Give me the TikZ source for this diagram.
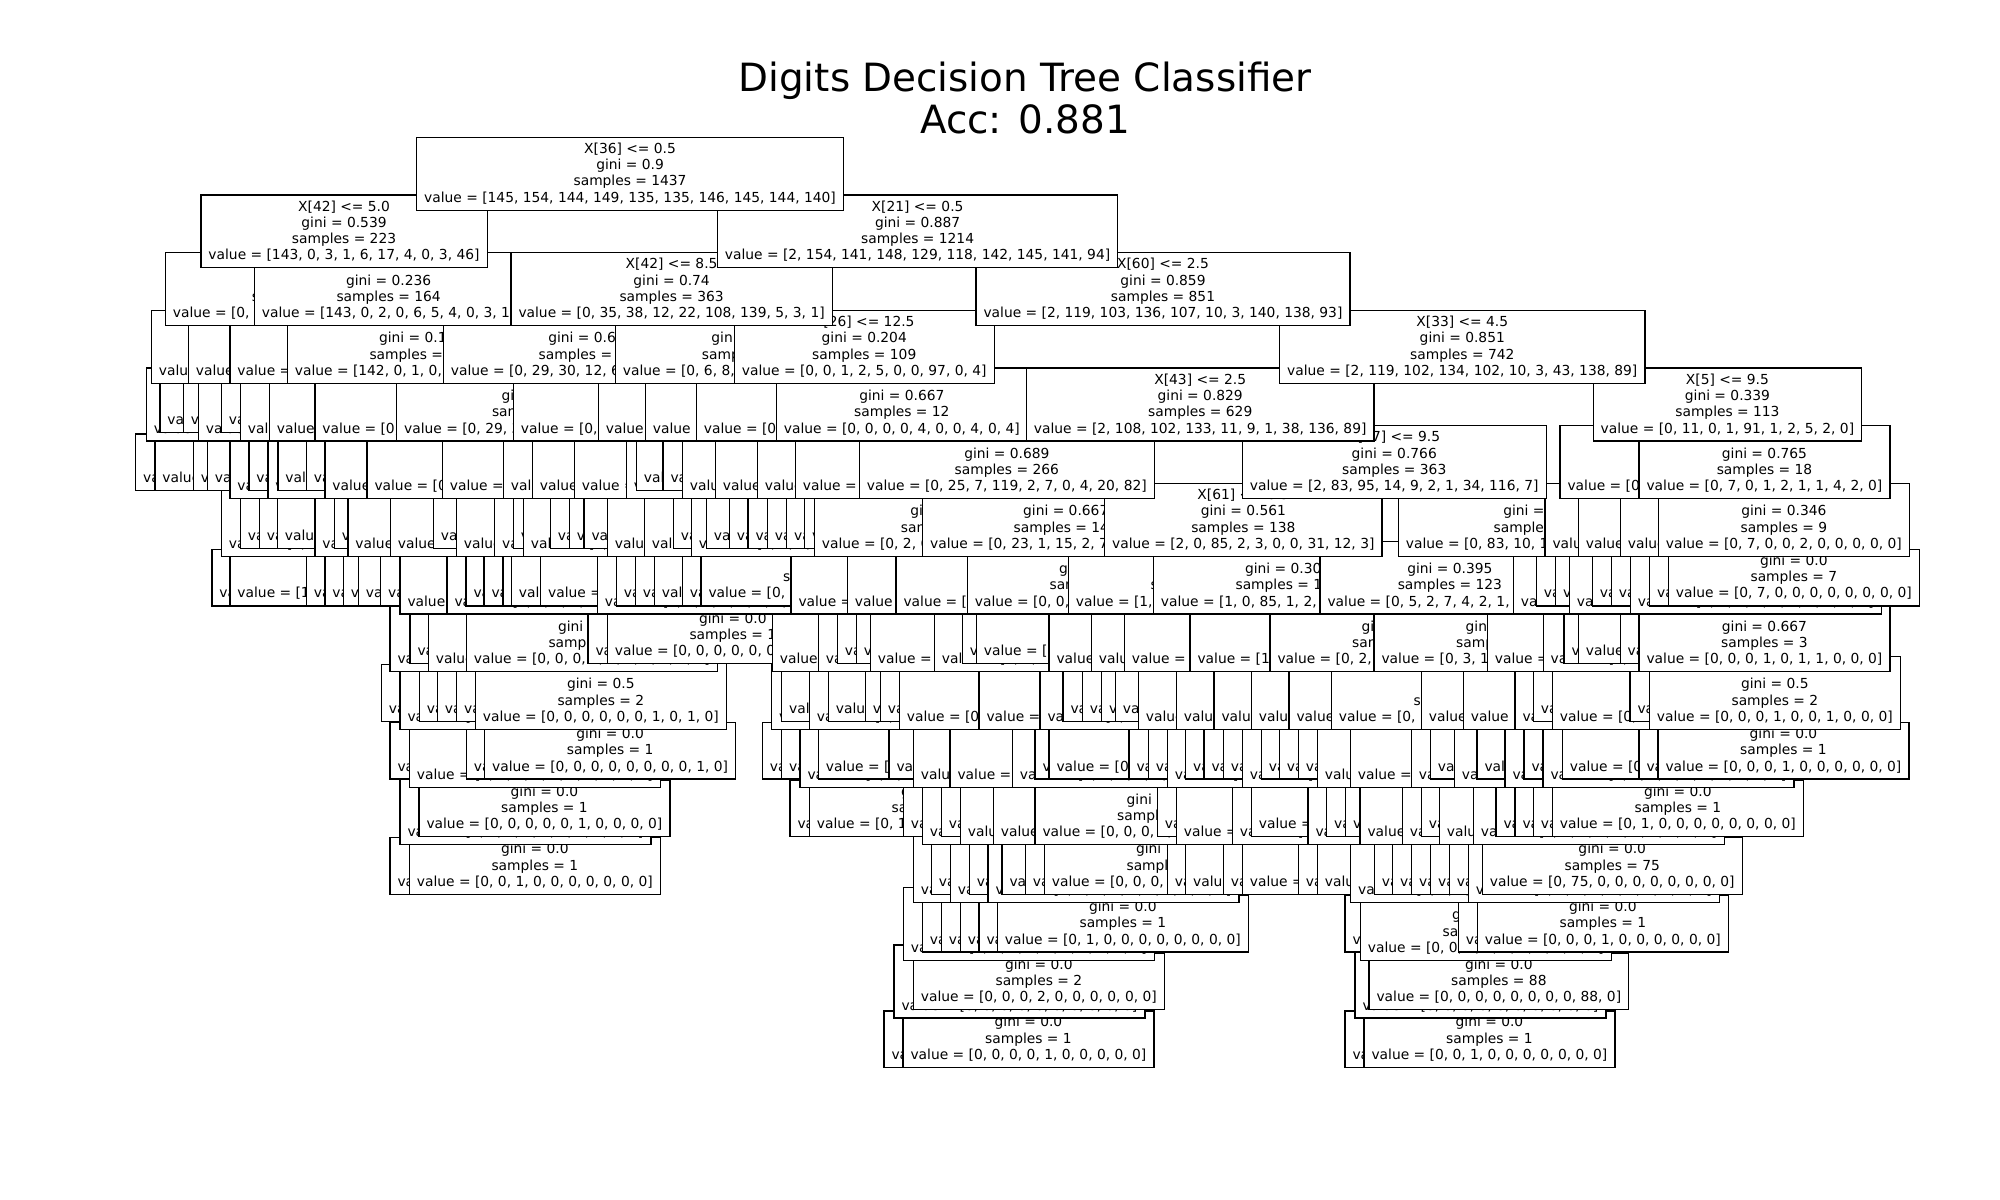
\documentclass[tikz,border=0pt]{standalone}
\usepackage{fontspec}
\newfontfamily\dv{DejaVu Sans}
\newcommand\st{\rule[-2.94pt]{0pt}{11.74pt}}
\newcommand\ph{\phantom{X[0] <= 0.5}}
\newcommand\Z{0, 0, 0, 0, 0, 0, 0, 0, 0, 0}
\tikzset{
  tb/.style={draw=black, fill=white, line width=0.9pt, inner xsep=5.45pt, inner ysep=2.75pt,
    align=center, anchor=west, font=\dv\fontsize{9.95pt}{11.74pt}\selectfont},
  ttl/.style={anchor=base, inner sep=0pt, font=\dv\fontsize{28pt}{30pt}\selectfont}
}
\newcommand\RI[7]{\node[tb] (#1) at (#2,{173.7+57.7*#3}) {\st #4\\\st #5\\\st #6\\\st value = [#7]};}
\newcommand\RL[6]{\node[tb] (#1) at (#2,{173.7+57.7*#3}) {\st #4\\\st #5\\\st value = [#6]};}
\newcommand\BI[4]{\RI{#1}{#2}{#3}{\ph}{gini = 0.5}{samples = 2}{#4}}
\newcommand\BL[4]{\RL{#1}{#2}{#3}{gini = 0.0}{samples = 1}{#4}}
\begin{document}
\begin{tikzpicture}[x=0.72pt,y=-0.72pt]
\path[use as bounding box, fill=white] (0,0) rectangle (2000,1200);
% depth 15
\BL{r15a}{883.3}{15}{\Z}
\RL{r15b}{902.3}{15}{gini = 0.0}{samples = 1}{0, 0, 0, 0, 1, 0, 0, 0, 0, 0}
\BL{r15c}{1344.3}{15}{\Z}
\RL{r15d}{1363.3}{15}{gini = 0.0}{samples = 1}{0, 0, 1, 0, 0, 0, 0, 0, 0, 0}
% depth 14
\BI{r14a}{893.3}{14}{\Z}
\RL{r14b}{912.7}{14}{gini = 0.0}{samples = 2}{0, 0, 0, 2, 0, 0, 0, 0, 0, 0}
\BI{r14c}{1354.3}{14}{\Z}
\RL{r14d}{1368.3}{14}{gini = 0.0}{samples = 88}{0, 0, 0, 0, 0, 0, 0, 0, 88, 0}
% depth 13
\BI{r13a}{902.7}{13}{\Z}
\BL{r13b}{921.7}{13}{\Z}
\BL{r13c}{940.7}{13}{\Z}
\BL{r13d}{959.7}{13}{\Z}
\BL{r13e}{978.3}{13}{\Z}
\RL{r13f}{996.7}{13}{gini = 0.0}{samples = 1}{0, 1, 0, 0, 0, 0, 0, 0, 0, 0}
\BL{r13g}{1344.3}{13}{\Z}
\BI{r13h}{1359.7}{13}{\Z}
\BL{r13i}{1457.7}{13}{\Z}
\RL{r13j}{1476.7}{13}{gini = 0.0}{samples = 1}{0, 0, 0, 1, 0, 0, 0, 0, 0, 0}
% depth 12
\BL{r12a}{389.3}{12}{\Z}
\RL{r12b}{408.7}{12}{gini = 0.0}{samples = 1}{0, 0, 1, 0, 0, 0, 0, 0, 0, 0}
\BI{r12c}{912.7}{12}{\Z}
\BL{r12d}{930.7}{12}{\Z}
\BI{r12e}{949.7}{12}{\Z}
\BL{r12f}{968.7}{12}{\Z}
\BI{r12g}{987.3}{12}{\Z}
\BL{r12h}{1001.3}{12}{\Z}
\BL{r12i}{1024.7}{12}{\Z}
\BL{r12j}{1043.7}{12}{\Z}
\BL{r12k}{1166.7}{12}{\Z}
\BL{r12l}{1185}{12}{\Z}
\BL{r12m}{1222.7}{12}{\Z}
\BL{r12n}{1241.7}{12}{\Z}
\BL{r12o}{1297.7}{12}{\Z}
\BL{r12p}{1316.7}{12}{\Z}
\BI{r12q}{1350}{12}{\Z}
\BL{r12r}{1373.7}{12}{\Z}
\BL{r12s}{1392}{12}{\Z}
\BL{r12t}{1411}{12}{\Z}
\BL{r12u}{1430}{12}{\Z}
\BL{r12v}{1448.7}{12}{\Z}
\BI{r12w}{1467.7}{12}{\Z}
\RL{r12x}{1481.7}{12}{gini = 0.0}{samples = 75}{0, 75, 0, 0, 0, 0, 0, 0, 0, 0}
% depth 11
\BI{r11a}{399.3}{11}{\Z}
\RL{r11b}{418.3}{11}{gini = 0.0}{samples = 1}{0, 0, 0, 0, 0, 1, 0, 0, 0, 0}
\BL{r11c}{789.3}{11}{\Z}
\BL{r11d}{808.7}{11}{0, 1, 0, 0, 0, 0, 0, 0, 0, 0}
\BL{r11e}{902.7}{11}{\Z}
\BI{r11f}{921.7}{11}{\Z}
\BL{r11g}{940.7}{11}{\Z}
\BI{r11h}{959.7}{11}{\Z}
\BI{r11i}{992.7}{11}{\Z}
\BI{r11j}{1034.3}{11}{\Z}
\BL{r11k}{1156.7}{11}{\Z}
\BI{r11l}{1175.7}{11}{\Z}
\BI{r11m}{1231.7}{11}{\Z}
\BL{r11n}{1250.7}{11}{\Z}
\BI{r11o}{1307.3}{11}{\Z}
\BL{r11p}{1326}{11}{\Z}
\BL{r11q}{1345}{11}{\Z}
\BI{r11r}{1359.3}{11}{\Z}
\BI{r11s}{1401.7}{11}{\Z}
\BL{r11t}{1420.7}{11}{\Z}
\BI{r11u}{1438.7}{11}{\Z}
\BI{r11v}{1472.7}{11}{\Z}
\BL{r11w}{1495.3}{11}{\Z}
\BL{r11x}{1514.3}{11}{\Z}
\BL{r11y}{1532.7}{11}{\Z}
\RL{r11z}{1551.7}{11}{gini = 0.0}{samples = 1}{0, 1, 0, 0, 0, 0, 0, 0, 0, 0}
% depth 10
\BL{r10a}{389.3}{10}{\Z}
\BI{r10b}{408.7}{10}{\Z}
\BL{r10c}{465.7}{10}{\Z}
\RL{r10d}{484}{10}{gini = 0.0}{samples = 1}{0, 0, 0, 0, 0, 0, 0, 0, 1, 0}
\BL{r10e}{761.7}{10}{\Z}
\BL{r10f}{781}{10}{\Z}
\BI{r10g}{799.3}{10}{\Z}
\BL{r10h}{817.7}{10}{\Z}
\BL{r10i}{888.3}{10}{\Z}
\BI{r10j}{912.7}{10}{\Z}
\BI{r10k}{949.3}{10}{\Z}
\BI{r10l}{1011.7}{10}{\Z}
\BL{r10m}{1034.3}{10}{\Z}
\BL{r10n}{1048.3}{10}{\Z}
\BL{r10o}{1128.3}{10}{\Z}
\BL{r10p}{1147.7}{10}{\Z}
\BI{r10q}{1166.7}{10}{\Z}
\BL{r10r}{1185}{10}{\Z}
\BL{r10s}{1203.3}{10}{\Z}
\BL{r10t}{1222.7}{10}{\Z}
\BI{r10u}{1241.7}{10}{\Z}
\BL{r10v}{1260.7}{10}{\Z}
\BL{r10w}{1278.7}{10}{\Z}
\BL{r10x}{1297.7}{10}{\Z}
\BI{r10y}{1316.7}{10}{\Z}
\BI{r10z}{1349.7}{10}{\Z}
\BI{r10A}{1410.7}{10}{\Z}
\BL{r10B}{1429.7}{10}{\Z}
\BI{r10C}{1453.7}{10}{\Z}
\BL{r10D}{1476.3}{10}{\Z}
\BI{r10E}{1504.3}{10}{\Z}
\BL{r10F}{1523.3}{10}{\Z}
\BI{r10G}{1542.3}{10}{\Z}
\BL{r10H}{1561.7}{10}{\Z}
\BL{r10I}{1638.3}{10}{\Z}
\RL{r10J}{1657.3}{10}{gini = 0.0}{samples = 1}{0, 0, 0, 1, 0, 0, 0, 0, 0, 0}
% depth 9
\BL{r9a}{380.7}{9}{\Z}
\BI{r9b}{399.3}{9}{\Z}
\BL{r9c}{418.7}{9}{\Z}
\BL{r9d}{436.7}{9}{\Z}
\BL{r9e}{456}{9}{\Z}
\RI{r9f}{474.7}{9}{\ph}{gini = 0.5}{samples = 2}{0, 0, 0, 0, 0, 0, 1, 0, 1, 0}
\BI{r9g}{771}{9}{\Z}
\BL{r9h}{781}{9}{\Z}
\BI{r9i}{808.7}{9}{\Z}
\BL{r9j}{827.7}{9}{\Z}
\BL{r9k}{864.7}{9}{\Z}
\BL{r9l}{879.7}{9}{\Z}
\BI{r9m}{898.7}{9}{\Z}
\BI{r9n}{978.3}{9}{\Z}
\BI{r9o}{1039.3}{9}{\Z}
\BL{r9p}{1062.3}{9}{\Z}
\BL{r9q}{1081.7}{9}{\Z}
\BL{r9r}{1101}{9}{\Z}
\BL{r9s}{1114.7}{9}{\Z}
\BI{r9t}{1137.7}{9}{\Z}
\BI{r9u}{1175.7}{9}{\Z}
\BI{r9v}{1213.3}{9}{\Z}
\BI{r9w}{1250.7}{9}{\Z}
\BI{r9x}{1288.3}{9}{\Z}
\BI{r9y}{1330.7}{9}{0, 1, 0, 0, 0, 1, 0, 0, 0, 0}
\BI{r9z}{1420.7}{9}{\Z}
\BI{r9A}{1462.7}{9}{\Z}
\BI{r9B}{1514.3}{9}{\Z}
\BL{r9C}{1532.7}{9}{\Z}
\BI{r9D}{1551.7}{9}{\Z}
\BL{r9E}{1629.3}{9}{\Z}
\RI{r9F}{1648.7}{9}{\ph}{gini = 0.5}{samples = 2}{0, 0, 0, 1, 0, 0, 1, 0, 0, 0}
% depth 8
\BI{r8a}{389.3}{8}{\Z}
\BL{r8b}{409.3}{8}{\Z}
\BI{r8c}{427.7}{8}{\Z}
\BI{r8d}{465.7}{8}{\Z}
\BL{r8e}{587.3}{8}{\Z}
\RL{r8f}{606.7}{8}{gini = 0.0}{samples = 1}{0, 0, 0, 0, 0, 0, 1, 0, 0, 0}
\BI{r8g}{771.7}{8}{\Z}
\BI{r8h}{817.7}{8}{\Z}
\BL{r8i}{836.7}{8}{\Z}
\BL{r8j}{855.7}{8}{\Z}
\BI{r8k}{869.7}{8}{\Z}
\BI{r8l}{933.7}{8}{\Z}
\BL{r8m}{961.7}{8}{\Z}
\BL{r8n}{975.7}{8}{\Z}
\BI{r8o}{1048.3}{8}{\Z}
\BI{r8p}{1090.7}{8}{\Z}
\BI{r8q}{1123.7}{8}{\Z}
\BI{r8r}{1189.3}{8}{1, 0, 0, 0, 0, 0, 0, 0, 1, 0}
\BI{r8s}{1269.3}{8}{0, 2, 0, 0, 0, 0, 0, 0, 2, 0}
\BI{r8t}{1373.3}{8}{0, 3, 1, 2, 1, 0, 0, 1, 8, 1}
\BI{r8u}{1486.7}{8}{\Z}
\BI{r8v}{1542.5}{8}{\Z}
\BL{r8w}{1563.3}{8}{\Z}
\BL{r8x}{1577.7}{8}{\Z}
\BL{r8y}{1619.5}{8}{\Z}
\RI{r8z}{1638.3}{8}{\ph}{gini = 0.667}{samples = 3}{0, 0, 0, 1, 0, 1, 1, 0, 0, 0}
% depth 7
\BL{r7a}{211.3}{7}{\Z}
\BL{r7b}{229.3}{7}{1, 0, 0, 0, 0, 0, 0, 0, 0, 0}
\BL{r7c}{305.7}{7}{\Z}
\BL{r7d}{324.3}{7}{\Z}
\BL{r7e}{342.7}{7}{\Z}
\BL{r7f}{357.7}{7}{\Z}
\BL{r7g}{380}{7}{\Z}
\BI{r7h}{399.3}{7}{\Z}
\BI{r7i}{446.3}{7}{\Z}
\BL{r7j}{465.3}{7}{\Z}
\BL{r7k}{483.3}{7}{\Z}
\BL{r7l}{502.3}{7}{\Z}
\BL{r7m}{510.7}{7}{\Z}
\BL{r7n}{540}{7}{\Z}
\BI{r7o}{596.7}{7}{\Z}
\BL{r7p}{615.7}{7}{\Z}
\BL{r7q}{634.7}{7}{\Z}
\BL{r7r}{653.7}{7}{\Z}
\BL{r7s}{681.7}{7}{\Z}
\BL{r7t}{700.3}{7}{\Z}
\BI{r7u}{790.3}{7}{\Z}
\BI{r7v}{846.7}{7}{\Z}
\BI{r7w}{895.3}{7}{0, 6, 0, 0, 0, 0, 0, 0, 0, 0}
\BI{r7x}{966.7}{7}{0, 0, 1, 0, 0, 0, 0, 0, 2, 0}
\RI{r7y}{1067.7}{7}{\ph}{gini = 0.307}{samples = 35}{1, 0, 0, 1, 1, 0, 0, 29, 2, 1}
\RI{r7z}{1152.7}{7}{\ph}{gini = 0.308}{samples = 103}{1, 0, 85, 1, 2, 0, 0, 2, 10, 2}
\RI{r7A}{1319.3}{7}{\ph}{gini = 0.395}{samples = 123}{0, 5, 2, 7, 4, 2, 1, 3, 95, 4}
\BI{r7B}{1512.7}{7}{\Z}
\BL{r7C}{1535.7}{7}{\Z}
\BL{r7D}{1555}{7}{\Z}
\BI{r7E}{1568.7}{7}{\Z}
\BL{r7F}{1591.7}{7}{\Z}
\BL{r7G}{1610.7}{7}{\Z}
\BI{r7H}{1629.7}{7}{\Z}
\BL{r7I}{1649}{7}{\Z}
\RL{r7J}{1667.7}{7}{gini = 0.0}{samples = 7}{0, 7, 0, 0, 0, 0, 0, 0, 0, 0}
% depth 6
\BI{r6a}{220.7}{6}{\Z}
\BL{r6b}{239.7}{6}{\Z}
\BL{r6c}{258.7}{6}{\Z}
\BL{r6d}{276.7}{6}{\Z}
\BI{r6e}{314.3}{6}{\Z}
\BL{r6f}{333.7}{6}{\Z}
\BI{r6g}{347.3}{6}{\Z}
\BI{r6h}{389.7}{6}{\Z}
\BL{r6i}{432.7}{6}{\Z}
\BI{r6j}{455.7}{6}{\Z}
\BI{r6k}{494}{6}{\Z}
\BL{r6l}{512.7}{6}{\Z}
\BI{r6m}{522.7}{6}{\Z}
\BL{r6n}{549.7}{6}{\Z}
\BL{r6o}{568.7}{6}{\Z}
\BL{r6p}{583.3}{6}{\Z}
\BI{r6q}{606.7}{6}{\Z}
\BI{r6r}{643.7}{6}{\Z}
\BL{r6s}{672.7}{6}{\Z}
\BI{r6t}{690.7}{6}{\Z}
\BL{r6u}{705.7}{6}{\Z}
\BL{r6v}{728.7}{6}{\Z}
\BL{r6w}{747.3}{6}{\Z}
\BL{r6x}{766.7}{6}{\Z}
\BL{r6y}{786}{6}{\Z}
\BL{r6z}{804}{6}{\Z}
\RI{r6A}{813.7}{6}{\ph}{gini = 0.287}{samples = 124}{0, 2, 6, 104, 0, 0, 0, 0, 10, 2}
\RI{r6B}{922}{6}{\ph}{gini = 0.667}{samples = 142}{0, 23, 1, 15, 2, 7, 0, 4, 10, 80}
\RI{r6C}{1104}{6}{X[61] <= 6.5}{gini = 0.561}{samples = 138}{2, 0, 85, 2, 3, 0, 0, 31, 12, 3}
\RI{r6D}{1397.7}{6}{\ph}{gini = 0.644}{samples = 225}{0, 83, 10, 12, 6, 2, 1, 3, 104, 4}
\BI{r6E}{1544.3}{6}{\Z}
\BI{r6F}{1577.7}{6}{\Z}
\BI{r6G}{1619.7}{6}{\Z}
\RI{r6H}{1657.7}{6}{\ph}{gini = 0.346}{samples = 9}{0, 7, 0, 0, 2, 0, 0, 0, 0, 0}
% depth 5
\BL{r5a}{135}{5}{\Z}
\BL{r5b}{154.3}{5}{\Z}
\BL{r5c}{192.7}{5}{\Z}
\BL{r5d}{206.7}{5}{\Z}
\BI{r5e}{229.3}{5}{\Z}
\BL{r5f}{248.3}{5}{\Z}
\BI{r5g}{267.3}{5}{\Z}
\BL{r5h}{277.3}{5}{\Z}
\BL{r5i}{305.7}{5}{\Z}
\BI{r5j}{324.3}{5}{\Z}
\BI{r5k}{366.3}{5}{0, 0, 0, 0, 2, 1, 0, 0, 0, 0}
\BI{r5l}{441.7}{5}{\Z}
\BI{r5m}{502.7}{5}{\Z}
\BI{r5n}{531.7}{5}{\Z}
\BI{r5o}{573.7}{5}{\Z}
\BI{r5p}{625.7}{5}{\Z}
\BL{r5q}{635.7}{5}{\Z}
\BL{r5r}{662.3}{5}{\Z}
\BI{r5s}{681.7}{5}{\Z}
\BI{r5t}{714.7}{5}{\Z}
\BI{r5u}{756.7}{5}{\Z}
\BI{r5v}{794.7}{5}{\Z}
\RI{r5w}{858.7}{5}{\ph}{gini = 0.689}{samples = 266}{0, 25, 7, 119, 2, 7, 0, 4, 20, 82}
\RI{r5x}{1241.7}{5}{X[27] <= 9.5}{gini = 0.766}{samples = 363}{2, 83, 95, 14, 9, 2, 1, 34, 116, 7}
\BI{r5y}{1559.3}{5}{0, 4, 0, 0, 89, 0, 1, 1, 0, 0}
\RI{r5z}{1638.3}{5}{\ph}{gini = 0.765}{samples = 18}{0, 7, 0, 1, 2, 1, 1, 4, 2, 0}
% depth 4
\BI{r4a}{145.7}{4}{\Z}
\BL{r4b}{159.3}{4}{\Z}
\BL{r4c}{182.7}{4}{\Z}
\BI{r4d}{197.7}{4}{\Z}
\BL{r4e}{220.7}{4}{\Z}
\BI{r4f}{239.7}{4}{\Z}
\BI{r4g}{268.7}{4}{\Z}
\BI{r4h}{314.3}{4}{0, 0, 0, 0, 3, 1, 2, 0, 0, 0}
\BI{r4i}{396}{4}{0, 29, 30, 12, 6, 3, 1, 4, 2, 1}
\BI{r4j}{512.7}{4}{0, 0, 0, 0, 0, 97, 4, 0, 1, 0}
\BI{r4k}{597.7}{4}{\Z}
\BI{r4l}{644.7}{4}{\Z}
\BI{r4m}{695.7}{4}{0, 0, 1, 2, 1, 0, 0, 93, 0, 0}
\RI{r4n}{775.7}{4}{\ph}{gini = 0.667}{samples = 12}{0, 0, 0, 0, 4, 0, 0, 4, 0, 4}
\RI{r4o}{1025.7}{4}{X[43] <= 2.5}{gini = 0.829}{samples = 629}{2, 108, 102, 133, 11, 9, 1, 38, 136, 89}
\RI{r4p}{1592.5}{4}{X[5] <= 9.5}{gini = 0.339}{samples = 113}{0, 11, 0, 1, 91, 1, 2, 5, 2, 0}
% depth 3
\BI{r3a}{150.7}{3}{0, 0, 1, 1, 0, 10, 0, 0, 0, 2}
\BI{r3b}{187.7}{3}{0, 0, 0, 0, 0, 2, 0, 0, 0, 43}
\BI{r3c}{229.3}{3}{1, 0, 1, 0, 2, 4, 2, 0, 3, 1}
\RI{r3d}{286.7}{3}{\ph}{gini = 0.103}{samples = 150}{142, 0, 1, 0, 4, 1, 2, 0, 0, 0}
\RI{r3e}{442.7}{3}{\ph}{gini = 0.668}{samples = 190}{0, 29, 30, 12, 6, 100, 5, 4, 3, 1}
\RI{r3f}{614.7}{3}{\ph}{gini = 0.386}{samples = 173}{0, 6, 8, 0, 16, 8, 134, 1, 0, 0}
\RI{r3g}{733.7}{3}{X[26] <= 12.5}{gini = 0.204}{samples = 109}{0, 0, 1, 2, 5, 0, 0, 97, 0, 4}
\RI{r3h}{1279}{3}{X[33] <= 4.5}{gini = 0.851}{samples = 742}{2, 119, 102, 134, 102, 10, 3, 43, 138, 89}
% depth 2
\RI{r2a}{164.7}{2}{\ph}{gini = 0.376}{samples = 59}{0, 0, 1, 1, 0, 12, 0, 0, 0, 45}
\RI{r2b}{253.7}{2}{\ph}{gini = 0.236}{samples = 164}{143, 0, 2, 0, 6, 5, 4, 0, 3, 1}
\RI{r2c}{510.3}{2}{X[42] <= 8.5}{gini = 0.74}{samples = 363}{0, 35, 38, 12, 22, 108, 139, 5, 3, 1}
\RI{r2d}{975.3}{2}{X[60] <= 2.5}{gini = 0.859}{samples = 851}{2, 119, 103, 136, 107, 10, 3, 140, 138, 93}
% depth 1
\RI{r1a}{200.3}{1}{X[42] <= 5.0}{gini = 0.539}{samples = 223}{143, 0, 3, 1, 6, 17, 4, 0, 3, 46}
\RI{r1b}{716.7}{1}{X[21] <= 0.5}{gini = 0.887}{samples = 1214}{2, 154, 141, 148, 129, 118, 142, 145, 141, 94}
% depth 0
\RI{r0}{416}{0}{X[36] <= 0.5}{gini = 0.9}{samples = 1437}{145, 154, 144, 149, 135, 135, 146, 145, 144, 140}
% title
\node[ttl] (title1) at (1025,91.5) {Digits Decision Tree Classifier};
\node[ttl] (title2) at (1025,134) {Acc: 0.881};
\end{tikzpicture}
\end{document}
